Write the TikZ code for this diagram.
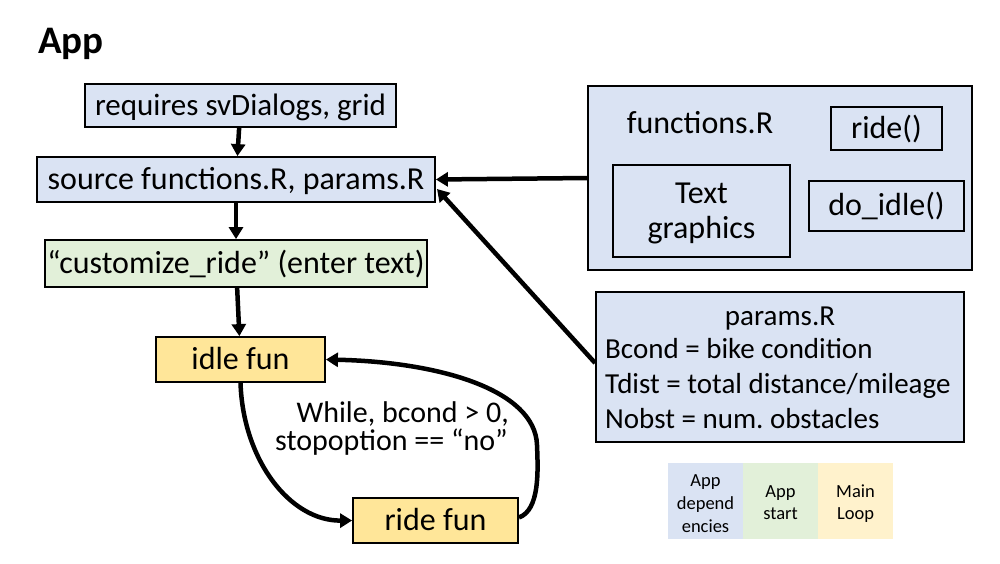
\documentclass[tikz,border=0pt]{standalone}
\usepackage{fontspec}
\setmainfont{Carlito}
\usetikzlibrary{arrows.meta}
\frenchspacing
\definecolor{depblue}{HTML}{DAE3F3}
\definecolor{startgreen}{HTML}{E2F0D9}
\definecolor{loopgold}{HTML}{FFE699}
\definecolor{legorange}{HTML}{FFF2CC}
\tikzset{
  box/.style={draw=black, line width=1.8pt, inner sep=0pt, font=\fontsize{32}{38}\selectfont, text height=26pt, text depth=7pt},
  inbox/.style={draw=black, line width=2.4pt, inner sep=0pt, font=\fontsize{32}{38}\selectfont, text height=26pt, text depth=7pt},
  txt/.style={inner sep=0pt, font=\fontsize{32}{38}\selectfont, anchor=base},
  ptxt/.style={inner sep=0pt, font=\fontsize{29}{35}\selectfont, anchor=base west},
  wtxt/.style={inner sep=0pt, font=\fontsize{30}{36}\selectfont, anchor=base east},
  leg/.style={inner sep=0pt, font=\fontsize{18.5}{22}\selectfont, anchor=base},
  cell/.style={inner sep=0pt, minimum width=75pt, minimum height=76pt},
  conn/.style={line width=4.5pt, -{Triangle[length=12pt,width=14pt]}},
}
\begin{document}
\begin{tikzpicture}[x=1pt,y=-1pt]
\useasboundingbox (0,0) rectangle (1000,563);
% title
\node[inner sep=0pt, anchor=base west, font=\fontsize{39}{46}\selectfont\bfseries] (title) at (38,53) {App};
% left flow
\node[box, fill=depblue, minimum width=311pt, minimum height=43pt, font=\fontsize{31}{37}\selectfont] (req) at (240.5,105.5) {requires svDialogs, grid};
\node[box, fill=depblue, minimum width=398pt, minimum height=45pt] (src) at (236,179.5) {source functions.R, params.R};
\node[box, fill=startgreen, minimum width=382pt, minimum height=47pt] (cust) at (236,263.5) {“customize\_ride” (enter text)};
\node[box, fill=loopgold, minimum width=169pt, minimum height=45pt] (idle) at (240.5,359.5) {idle fun};
\node[box, fill=loopgold, minimum width=165pt, minimum height=45pt] (ride) at (435.5,520.5) {ride fun};
% right boxes
\node[box, fill=depblue, minimum width=384pt, minimum height=184pt] (fbox) at (780,178) {};
\node[txt] (ftitle) at (700,133) {functions.R};
\node[inbox, minimum width=111pt, minimum height=43pt] (rideF) at (886.5,128.5) {ride()};
\node[inbox, minimum width=177pt, minimum height=92pt] (tg) at (701.5,211) {};
\node[txt] (tg1) at (701.5,203) {Text};
\node[txt] (tg2) at (701.5,238) {graphics};
\node[inbox, minimum width=155pt, minimum height=50pt] (doidle) at (886.5,206) {do\_idle()};
\node[box, fill=depblue, minimum width=368pt, minimum height=150pt] (par) at (780,367) {};
\node[txt, font=\fontsize{29}{35}\selectfont] (ptitle) at (780,325) {params.R};
\node[ptxt] (p1) at (605,358) {Bcond = bike condition};
\node[ptxt] (p2) at (605,393) {Tdist = total distance/mileage};
\node[ptxt] (p3) at (605,428) {Nobst = num. obstacles};
% loop label
\node[wtxt] (w1) at (509,422) {While, bcond > 0,};
\node[wtxt] (w2) at (508,450) {stopoption == “no”};
% legend
\node[cell, fill=depblue] (lg1) at (705.5,501) {};
\node[cell, fill=startgreen] (lg2) at (780.5,501) {};
\node[cell, fill=legorange] (lg3) at (855.5,501) {};
\node[leg] (l1a) at (705.5,486) {App};
\node[leg] (l1b) at (705.5,509) {depend};
\node[leg] (l1c) at (705.5,532) {encies};
\node[leg] (l2a) at (780.5,497) {App};
\node[leg] (l2b) at (780.5,519) {start};
\node[leg] (l3a) at (855.5,497) {Main};
\node[leg] (l3b) at (855.5,519) {Loop};
% connectors
\draw[conn] (req) -- (src);
\draw[conn] (src) -- (cust);
\draw[conn] (cust) -- (idle);
\draw[conn] (idle.south) .. controls (243,460) and (290,521) .. (ride.west);
\coordinate (loopTop) at (537,445);
\draw[conn] ([yshift=3pt]ride.east) .. controls (540,510) and (538,470) .. (loopTop) .. controls (535,390) and (440,362) .. (idle.east);
\draw[conn] (fbox.west) -- (src.east);
\coordinate (srcIn) at (437,189);
\draw[conn] ([yshift=4pt]par.west) -- (srcIn);
\end{tikzpicture}
\end{document}
